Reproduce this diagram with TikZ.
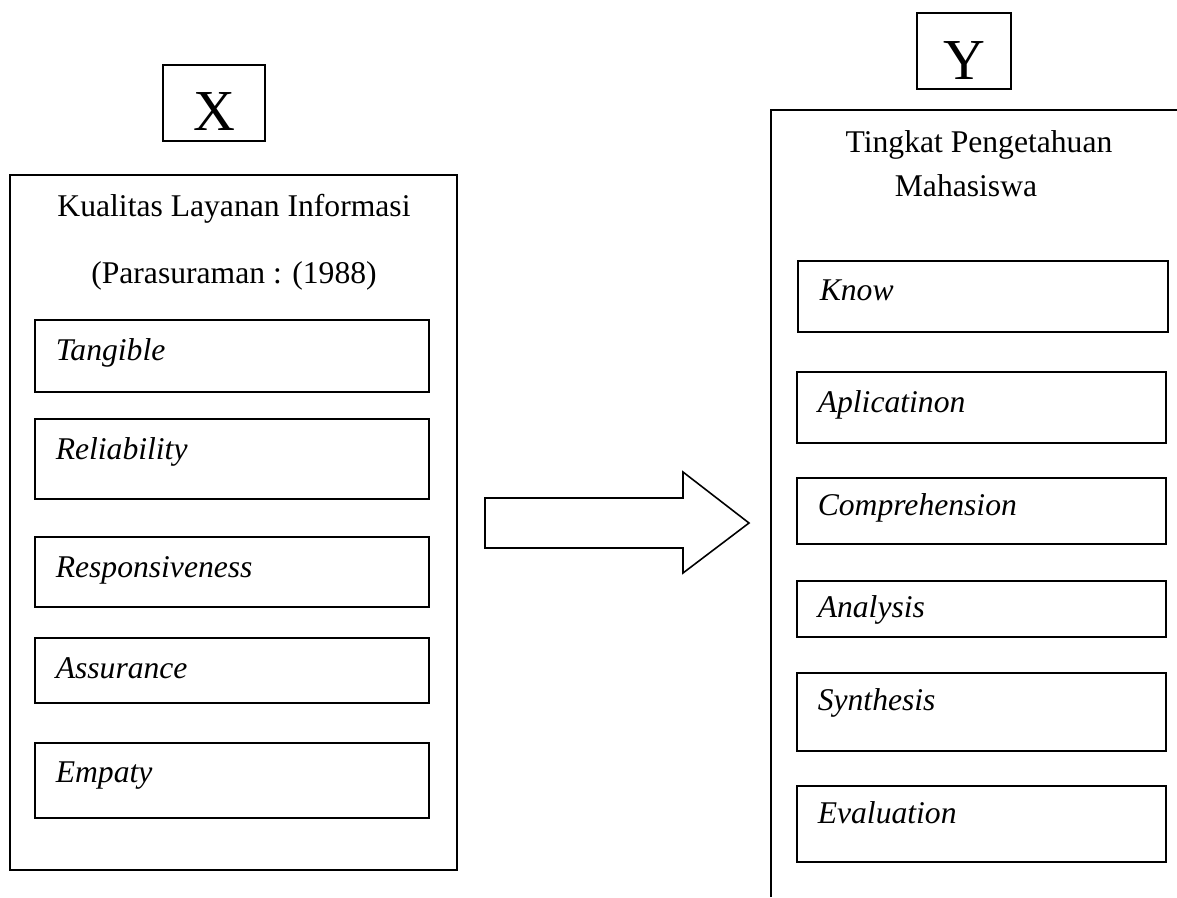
\documentclass[tikz,border=0pt]{standalone}
\usepackage{fontspec}
\setmainfont{Liberation Serif}
\tikzset{item/.style = {anchor=base west, inner sep=0pt, font=\fontsize{18}{21}\selectfont\itshape}}
\tikzset{title/.style = {anchor=base, inner sep=0pt, font=\fontsize{18}{21}\selectfont}}
\tikzset{var/.style = {anchor=base, inner sep=0pt, font=\fontsize{33}{36}\selectfont}}

\begin{document}
\begin{tikzpicture}[x=0.02cm, y=-0.02cm, line width=0.9pt]
    \useasboundingbox (0,0) rectangle (1177,897);
    % variable X
    \draw (163,65) rectangle (265,141);
    \node [var] (xvar) at (214,130) {X};
    \draw (10,175) rectangle (457,870);
    \node [title] (kualitas) at (234,216) {Kualitas Layanan Informasi};
    \node [title] (parasuraman) at (234,283) {(Parasuraman : (1988)};
    \draw (35,320) rectangle (429,392);
    \node [item] (tangible) at (55,360) {Tangible};
    \draw (35,419) rectangle (429,499);
    \node [item] (reliability) at (55,459) {Reliability};
    \draw (35,537) rectangle (429,607);
    \node [item] (responsiveness) at (55,577) {Responsiveness};
    \draw (35,638) rectangle (429,703);
    \node [item] (assurance) at (55,678) {Assurance};
    \draw (35,743) rectangle (429,818);
    \node [item] (empaty) at (55,782) {Empaty};
    % block arrow
    \draw (485,498) -- (683,498) -- (683,472) -- (749,523) -- (683,573) -- (683,548) -- (485,548) -- cycle;
    % variable Y
    \draw (917,13) rectangle (1011,89);
    \node [var] (yvar) at (964,79) {Y};
    \draw (771,897) -- (771,110) -- (1177,110);
    \node [title] (tingkat) at (979,152) {Tingkat Pengetahuan};
    \node [title] (mahasiswa) at (966,196) {Mahasiswa};
    \draw (798,261) rectangle (1168,332);
    \node [item] (know) at (819,300) {Know};
    \draw (797,372) rectangle (1166,443);
    \node [item] (aplicatinon) at (817,412) {Aplicatinon};
    \draw (797,478) rectangle (1166,544);
    \node [item] (comprehension) at (817,515) {Comprehension};
    \draw (797,581) rectangle (1166,637);
    \node [item] (analysis) at (817,617) {Analysis};
    \draw (797,673) rectangle (1166,751);
    \node [item] (synthesis) at (817,710) {Synthesis};
    \draw (797,786) rectangle (1166,862);
    \node [item] (evaluation) at (817,823) {Evaluation};
\end{tikzpicture}
\end{document}
